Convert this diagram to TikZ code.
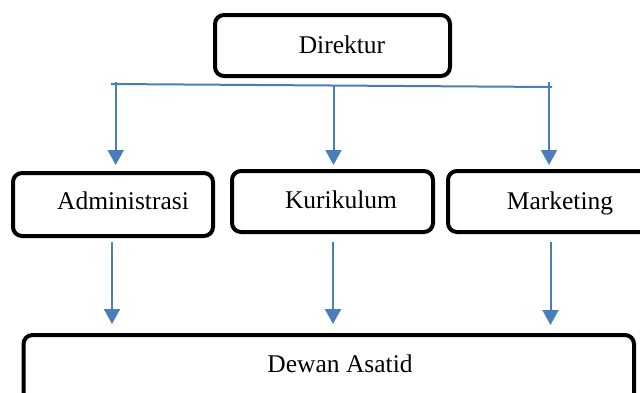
\documentclass[tikz,border=0pt]{standalone}
\usepackage{fontspec}
\setmainfont{Liberation Serif}
\usetikzlibrary{arrows.meta}
\definecolor{lineblue}{RGB}{74,126,187}
\tikzset{
  boxnode/.style={draw=black, line width=4pt, rounded corners=9pt, inner sep=0pt},
  lbl/.style={font=\fontsize{25.5}{28}\selectfont, inner sep=0pt, anchor=base},
  conn/.style={draw=lineblue, line width=2pt},
  arr/.style={conn, -{Triangle[width=16pt,length=15pt]}}
}
\begin{document}
\begin{tikzpicture}[x=1pt,y=-1pt]
\useasboundingbox (0,0) rectangle (640,392);
\clip (0,0) rectangle (640,392);
\fill[white] (0,0) rectangle (640,392);
% boxes
\node[boxnode, minimum width=235pt, minimum height=61pt] (dir) at (332.5,45.5) {};
\node[boxnode, minimum width=200pt, minimum height=63pt] (adm) at (113,204.5) {};
\node[boxnode, minimum width=201pt, minimum height=61pt] (kur) at (332.5,201.5) {};
\node[boxnode, minimum width=212pt, minimum height=61pt] (mkt) at (554,201.5) {};
\node[boxnode, minimum width=610.5pt, minimum height=75pt] (dew) at (328.75,372.5) {};
% labels
\node[lbl] (dirT) at (342,53) {Direktur};
\node[lbl] (admT) at (123,209) {Administrasi};
\node[lbl] (kurT) at (341,208) {Kurikulum};
\node[lbl] (mktT) at (560,209) {Marketing};
\node[lbl] (dewT) at (340,372) {Dewan Asatid};
% connectors
\coordinate (hl) at (111,84);
\coordinate (hr) at (552,87);
\coordinate (t1) at (115.7,82);
\coordinate (t2) at (333.5,85);
\coordinate (t3) at (549,82);
\coordinate (a1) at (115.7,165);
\coordinate (a2) at (333.5,165);
\coordinate (a3) at (549,165);
\draw[conn] (hl) -- (hr);
\draw[arr] (t1) -- (a1);
\draw[arr] (t2) -- (a2);
\draw[arr] (t3) -- (a3);
\coordinate (b1) at (112,242);
\coordinate (b2) at (333,242);
\coordinate (b3) at (550.5,242);
\coordinate (c1) at (112,324);
\coordinate (c2) at (333,324);
\coordinate (c3) at (550.5,325);
\draw[arr] (b1) -- (c1);
\draw[arr] (b2) -- (c2);
\draw[arr] (b3) -- (c3);
\end{tikzpicture}
\end{document}
